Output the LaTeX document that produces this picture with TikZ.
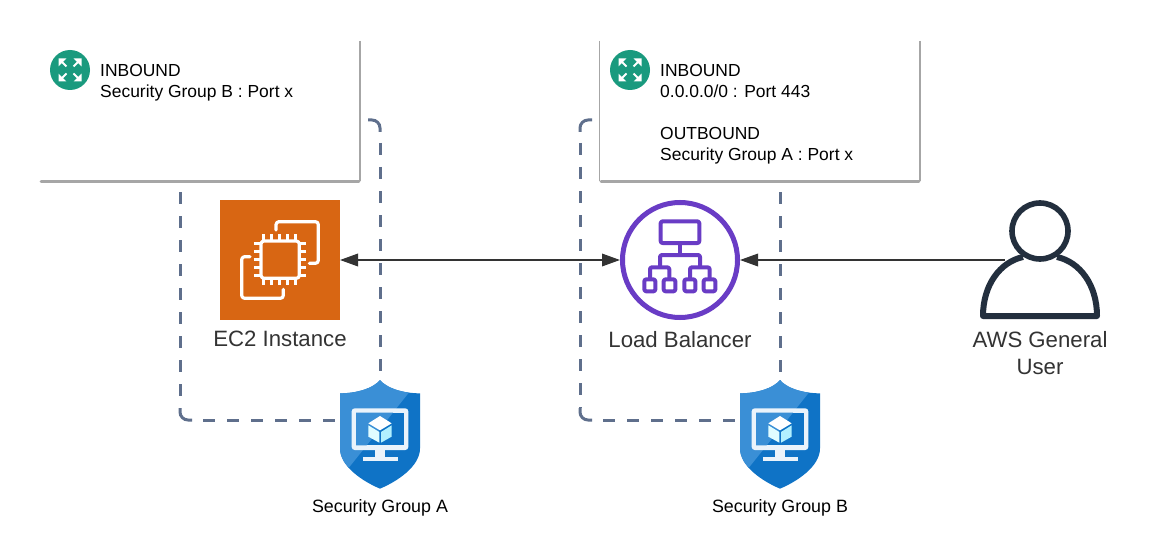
\documentclass[tikz,border=0pt]{standalone}
\usepackage{fontspec}
\setmainfont{Liberation Sans}
\usetikzlibrary{arrows.meta}
\definecolor{dashc}{HTML}{5F6F8C}
\definecolor{edgec}{HTML}{A6A6A6}
\definecolor{tealc}{HTML}{1A9A7E}
\definecolor{orangec}{HTML}{D86613}
\definecolor{purplec}{HTML}{693CC5}
\definecolor{navyc}{HTML}{232F3E}
\definecolor{arrowc}{HTML}{333333}
\definecolor{shieldd}{HTML}{0F73C6}
\definecolor{shieldl}{HTML}{3A8FD6}
\definecolor{monwhite}{HTML}{EAF3FB}
\tikzset{
  sgdash/.style={draw=dashc,line width=3pt,dash pattern=on 12pt off 12pt},
  sgcorner/.style={draw=dashc,line width=3pt,rounded corners=8pt},
  rulebox/.style={fill=white,draw=none},
  ruleedge/.style={draw=edgec,line width=1.2pt,rounded corners=2pt},
  ruleside/.style={draw=edgec,line width=2pt},
  ruleshade/.style={draw=edgec,line width=2.8pt,line cap=round},
  ruletext/.style={anchor=north west,align=left,inner sep=0pt,font=\fontsize{17.45}{21}\selectfont,text=black},
  biglabel/.style={align=center,inner sep=0pt,font=\fontsize{22.2}{27}\selectfont,text=arrowc},
  smalllabel/.style={inner sep=0pt,font=\fontsize{17.85}{20}\selectfont,text=black},
  link/.style={draw=arrowc,line width=1.8pt},
  bigtip/.tip={Triangle[length=18pt,width=12.5pt]},
  iconline/.style={draw=white,line width=3.2pt,line join=round,line cap=round},
  pinline/.style={draw=white,line width=2.6pt},
  lbline/.style={draw=purplec,line width=4pt,line join=round},
  zoomed/.style={x=0.33333pt,y=-0.33333pt},
}
\newcommand{\tealbadge}[1]{%
  \begin{scope}[shift={(#1)}]
    \fill[tealc] (0,0) circle (20);
    \foreach \sx/\sy in {1/1,1/-1,-1/1,-1/-1}{
      \begin{scope}[x={(\sx*1pt,0pt)},y={(0pt,\sy*1pt)}]
        \draw[white,line width=2pt] (3.5,3.5) -- (9,9);
        \fill[white] (11.5,11.5) -- (11.5,3.6) -- (3.6,11.5) -- cycle;
      \end{scope}
    }
  \end{scope}}
\newcommand{\shieldicon}[1]{%
  \begin{scope}[shift={(#1)},zoomed]
    \path[fill=shieldd] (180,30) .. controls (160,55) and (110,70) .. (60,70)
      -- (60,235) .. controls (60,290) and (130,335) .. (180,356)
      .. controls (230,335) and (300,290) .. (300,235) -- (300,70)
      .. controls (250,70) and (200,55) .. (180,30) -- cycle;
    \begin{scope}
      \clip (180,30) .. controls (160,55) and (110,70) .. (60,70)
        -- (60,235) .. controls (60,290) and (130,335) .. (180,356)
        .. controls (230,335) and (300,290) .. (300,235) -- (300,70)
        .. controls (250,70) and (200,55) .. (180,30) -- cycle;
      \fill[shieldl] (40,20) -- (300,20) -- (265,70) -- (85,295) -- (40,295) -- cycle;
    \end{scope}
    \fill[monwhite,rounded corners=3pt] (95,115) rectangle (265,240);
    \fill[shieldd] (108,128) rectangle (252,226);
    \fill[shieldl] (108,128) -- (219,128) -- (140,226) -- (108,226) -- cycle;
    \fill[monwhite] (165,238) rectangle (195,264);
    \fill[monwhite] (128,262) rectangle (233,272);
    \fill[white] (180,138) -- (215,160) -- (180,181) -- (145,160) -- cycle;
    \fill[blue!10!cyan!12!white] (145,166) -- (178,186) -- (178,218) -- (145,200) -- cycle;
    \fill[blue!20!cyan!30!white] (183,186) -- (215,166) -- (215,200) -- (183,218) -- cycle;
  \end{scope}}
\begin{document}
\begin{tikzpicture}[x=1pt,y=-1pt]
\useasboundingbox (0,0) rectangle (1170,559);
\fill[white] (0,0) rectangle (1170,559);
% security group A frame
\draw[sgcorner] (368,120) -- (380,120) -- (380,132);
\draw[sgdash] (380,143) -- (380,385);
\draw[sgdash] (180,192) -- (180,408);
\draw[sgcorner] (180,408) -- (180,420) -- (192,420);
\draw[sgdash] (203,420) -- (345,420);
% security group B frame
\draw[sgcorner] (592,120) -- (580,120) -- (580,132);
\draw[sgdash] (580,143) -- (580,408);
\draw[sgcorner] (580,408) -- (580,420) -- (592,420);
\draw[sgdash] (603,420) -- (745,420);
\draw[sgdash] (780,192) -- (780,385);
% rule boxes
\fill[rulebox] (40,38) rectangle (360,180);
\fill[rulebox] (600,38) rectangle (920,180);
\draw[ruleside] (360.3,41) -- (360.3,181);
\draw[ruleshade] (41,181.3) -- (359,181.3);
\draw[ruleedge] (599.6,41) -- (599.6,181);
\draw[ruleside] (920.3,41) -- (920.3,181);
\draw[ruleshade] (601,181.3) -- (919,181.3);
\tealbadge{70,70}
\tealbadge{630,70}
\node[ruletext] (leftrule) at (100,64.5) {INBOUND\\Security Group B : Port x};
\node[ruletext] (rightrule) at (660,64.5) {INBOUND\\0.0.0.0/0 : Port 443\\[21pt]OUTBOUND\\Security Group A : Port x};
% EC2
\node[fill=orangec,minimum size=120pt,inner sep=0pt,outer sep=0pt] (ec2) at (280,260) {};
\begin{scope}[shift={(200,190)},zoomed]
  \draw[iconline,rounded corners=3pt] (228,120) -- (228,95) -- (355,95) -- (355,220) -- (328,220);
  \draw[iconline,rounded corners=3pt] (150,200) -- (125,200) -- (125,325) -- (250,325) -- (250,298);
  \draw[iconline,rounded corners=3pt] (183,153) rectangle (298,265);
  \foreach \p in {190,214,238,262,286}{
    \draw[pinline] (\p,133) -- (\p,153);
    \draw[pinline] (\p,265) -- (\p,285);
  }
  \foreach \p in {160,184,208,232,256}{
    \draw[pinline] (163,\p) -- (183,\p);
    \draw[pinline] (298,\p) -- (318,\p);
  }
\end{scope}
\node[biglabel] (ec2label) at (280,339) {EC2 Instance};
% load balancer
\node[circle,draw=purplec,fill=white,line width=5pt,minimum size=115pt,inner sep=0pt] (lb) at (680,260) {};
\begin{scope}[shift={(600,190)},zoomed]
  \draw[lbline,rounded corners=2pt] (182,94) rectangle (298,159);
  \draw[lbline] (240,159) -- (240,195);
  \draw[lbline,rounded corners=2pt] (180,232) -- (180,195) -- (300,195) -- (300,232);
  \draw[lbline,rounded corners=2pt] (150,268) -- (150,232) -- (208,232) -- (208,268);
  \draw[lbline,rounded corners=2pt] (270,268) -- (270,232) -- (329,232) -- (329,268);
  \foreach \a/\b in {133/166,191/226,253/286,311/346}{
    \draw[lbline,rounded corners=2pt] (\a,268) rectangle (\b,304);
  }
\end{scope}
\node[biglabel] (lblabel) at (680,339.5) {Load Balancer};
% user
\draw[navyc,line width=6pt,line join=round,fill=white] (1023,257) .. controls (1000,262) and (983,285) .. (983,316) -- (1097,316) .. controls (1097,285) and (1080,262) .. (1057,257);
\node[circle,draw=navyc,fill=white,line width=5.6pt,minimum size=56pt,inner sep=0pt] (userhead) at (1040,231) {};
\coordinate (userarm) at (1005,260);
\node[biglabel] (userlabel) at (1040,353) {AWS General\\User};
% connectors
\draw[link,{bigtip}-{bigtip}] (ec2.east) -- (lb.west);
\draw[link,-{bigtip}] (userarm) -- (lb.east);
% shields
\shieldicon{320,370}
\shieldicon{720,370}
\node[smalllabel] (sga) at (380,507.5) {Security Group A};
\node[smalllabel] (sgb) at (780,507.5) {Security Group B};
\end{tikzpicture}
\end{document}
